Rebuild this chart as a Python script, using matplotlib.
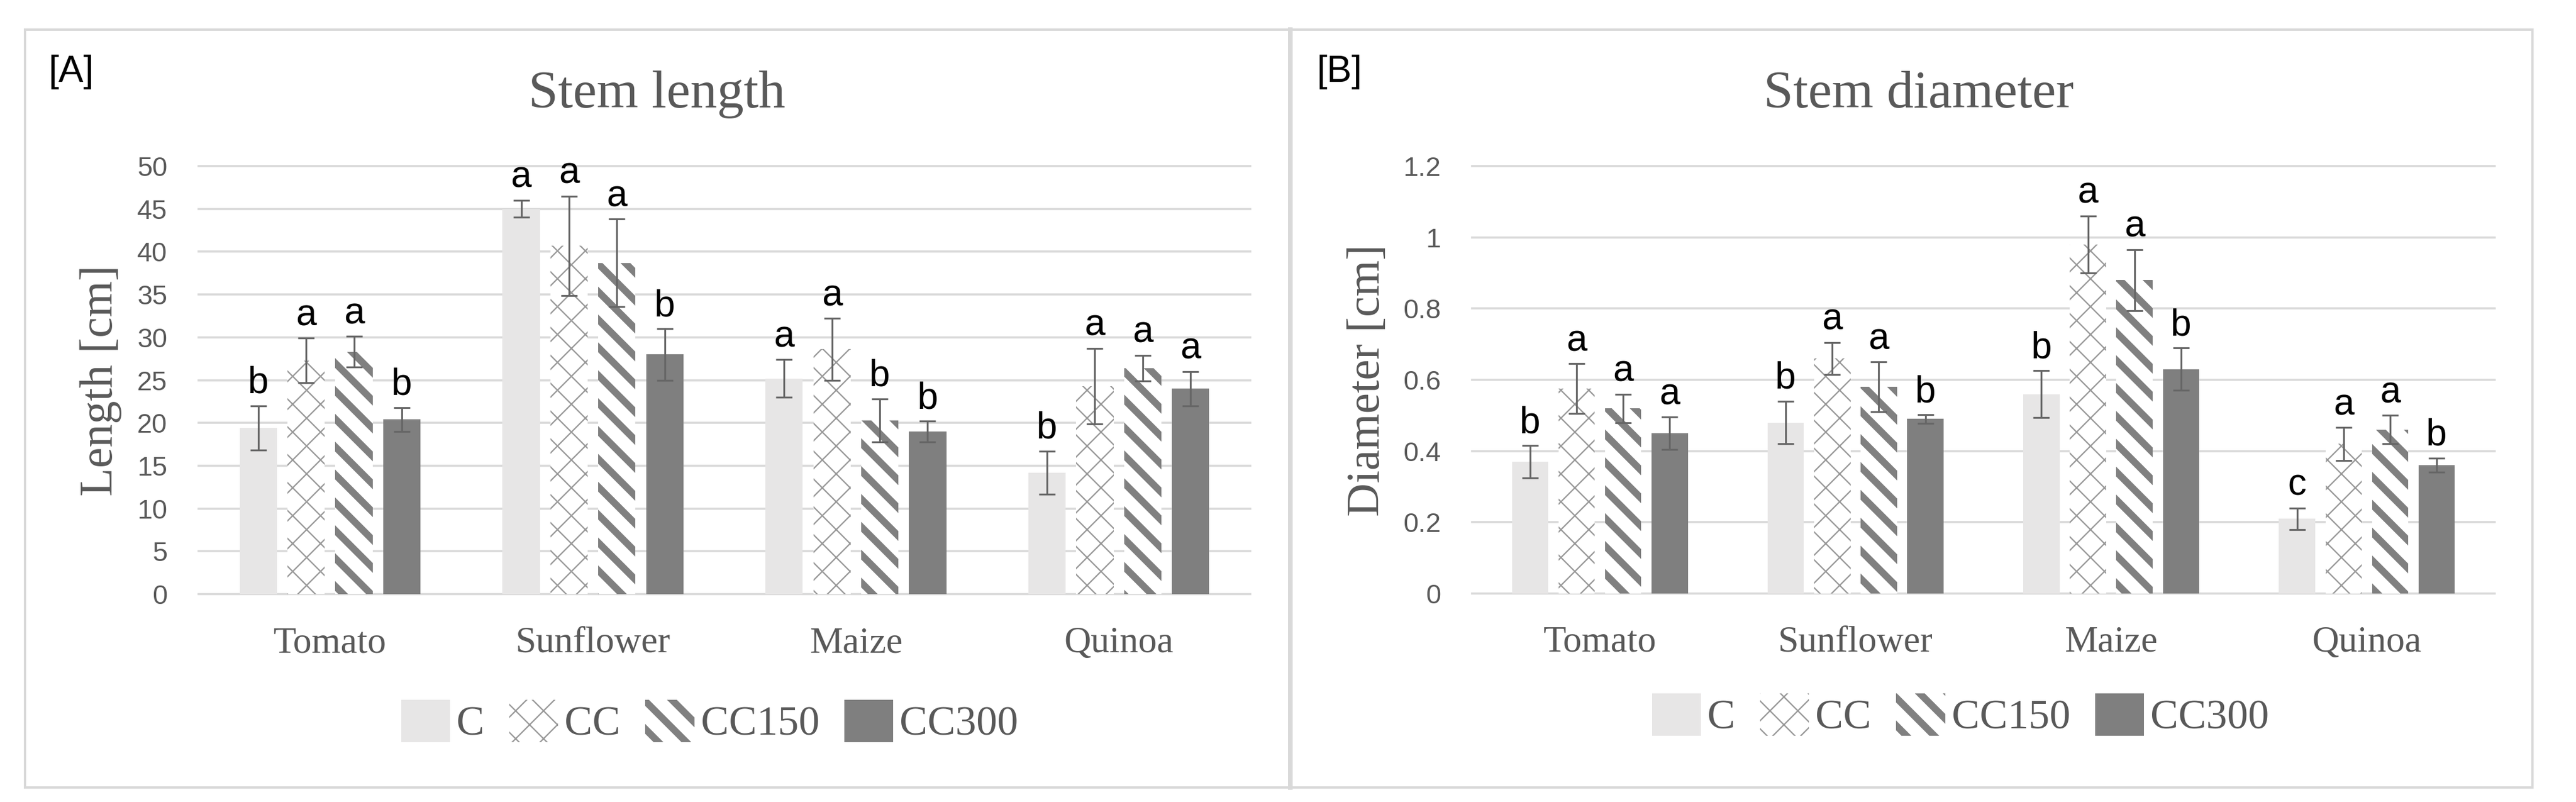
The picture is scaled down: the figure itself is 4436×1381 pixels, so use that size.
import numpy as np
import matplotlib
matplotlib.use('Agg')
import matplotlib.pyplot as plt
from matplotlib.patches import Rectangle
from matplotlib.lines import Line2D

W, H = 4436, 1381
DPI = 288          # 1 pt = 4 px

crops = ['Tomato', 'Sunflower', 'Maize', 'Quinoa']
treatments = ['C', 'CC', 'CC150', 'CC300']

# [A] stem length [cm]
length_C = [19.4, 45.0, 25.2, 14.2]
length_CC = [27.3, 40.7, 28.6, 24.3]
length_CC150 = [28.3, 38.7, 20.3, 26.4]
length_CC300 = [20.4, 28.0, 19.0, 24.0]
length_err_C = [2.6, 1.0, 2.2, 2.5]
length_err_CC = [2.6, 5.8, 3.6, 4.4]
length_err_CC150 = [1.8, 5.1, 2.5, 1.5]
length_err_CC300 = [1.4, 3.0, 1.2, 2.0]
length_let_C = ['b', 'a', 'a', 'b']
length_let_CC = ['a', 'a', 'a', 'a']
length_let_CC150 = ['a', 'a', 'b', 'a']
length_let_CC300 = ['b', 'b', 'b', 'a']
length_ticks = [0, 5, 10, 15, 20, 25, 30, 35, 40, 45, 50]

# [B] stem diameter [cm]
diam_C = [0.37, 0.48, 0.56, 0.21]
diam_CC = [0.575, 0.66, 0.98, 0.42]
diam_CC150 = [0.52, 0.58, 0.88, 0.46]
diam_CC300 = [0.45, 0.49, 0.63, 0.36]
diam_err_C = [0.045, 0.06, 0.066, 0.03]
diam_err_CC = [0.07, 0.045, 0.08, 0.046]
diam_err_CC150 = [0.04, 0.07, 0.086, 0.04]
diam_err_CC300 = [0.045, 0.012, 0.059, 0.02]
diam_let_C = ['b', 'b', 'b', 'c']
diam_let_CC = ['a', 'a', 'a', 'a']
diam_let_CC150 = ['a', 'a', 'a', 'a']
diam_let_CC300 = ['a', 'b', 'b', 'b']
diam_ticks = [0, 0.2, 0.4, 0.6, 0.8, 1, 1.2]

GREY_TXT = '#595959'
GRID = '#d9d9d9'
SERIF = 'Liberation Serif'
SANS = 'Liberation Sans'

styles = {
    'C':     dict(face='#e7e6e6', edge='#e7e6e6', hatch=None, hlw=1.0),
    'CC':    dict(face='white', edge='#9a9a9a', hatch='xx', hlw=0.6),
    'CC150': dict(face='white', edge='#808080', hatch='\\\\', hlw=3.0),
    'CC300': dict(face='#7f7f7f', edge='#7f7f7f', hatch=None, hlw=1.0),
}

WIDTH = 0.142
PITCH = 0.182


def set_hlw(patch, lw):
    if hasattr(patch, 'set_hatch_linewidth'):
        patch.set_hatch_linewidth(lw)
    else:
        patch._hatch_linewidth = lw


def draw_panel(ax, means, errs, letters, ticks):
    x = np.arange(len(crops))
    handles = []
    for i, t in enumerate(treatments):
        st = styles[t]
        xs = x + (i - 1.5) * PITCH
        with plt.rc_context({'hatch.linewidth': st['hlw']}):
            bars = ax.bar(xs, means[i], WIDTH, color=st['face'], edgecolor=st['edge'],
                          linewidth=0, hatch=st['hatch'], zorder=2, label=t)
        for b in bars:
            set_hlw(b, st['hlw'])
        handles.append(bars)
        ax.errorbar(xs, means[i], yerr=errs[i], fmt='none', ecolor='#666666',
                    elinewidth=0.8, capsize=3.6, capthick=0.8, zorder=3)
        for xx, m, e, l in zip(xs, means[i], errs[i], letters[i]):
            ax.annotate(l, (xx, m + e), xytext=(0, 5.5), textcoords='offset points',
                        ha='center', va='baseline', fontsize=16, family=SANS,
                        color='black', zorder=4)

    ax.set_xlim(-0.5, len(crops) - 0.5)
    ax.set_ylim(ticks[0], ticks[-1])
    ax.set_yticks(ticks, ['{:g}'.format(v) for v in ticks])
    ax.set_xticks(x, crops)
    for s in ax.spines.values():
        s.set_visible(False)
    ax.yaxis.grid(True, color=GRID, linewidth=0.9)
    ax.set_axisbelow(True)
    for gl in ax.get_ygridlines():
        gl.set_clip_on(False)
    ax.tick_params(axis='both', length=0)
    ax.tick_params(axis='y', pad=13.5, labelsize=11.7, labelcolor=GREY_TXT)
    ax.tick_params(axis='x', pad=14, labelsize=16, labelcolor=GREY_TXT)
    for lab in ax.get_yticklabels():
        lab.set_family(SANS)
    for lab in ax.get_xticklabels():
        lab.set_family(SERIF)
    return handles


fig = plt.figure(figsize=(W / DPI, H / DPI), dpi=DPI)
fig.patch.set_facecolor('white')

axA = fig.add_axes([342 / W, 1 - 1023 / H, (2153 - 342) / W, (1023 - 286) / H])
axB = fig.add_axes([2535 / W, 1 - 1022 / H, (4296 - 2535) / W, (1022 - 286) / H])

hA = draw_panel(axA,
                [length_C, length_CC, length_CC150, length_CC300],
                [length_err_C, length_err_CC, length_err_CC150, length_err_CC300],
                [length_let_C, length_let_CC, length_let_CC150, length_let_CC300],
                length_ticks)
hB = draw_panel(axB,
                [diam_C, diam_CC, diam_CC150, diam_CC300],
                [diam_err_C, diam_err_CC, diam_err_CC150, diam_err_CC300],
                [diam_let_C, diam_let_CC, diam_let_CC150, diam_let_CC300],
                diam_ticks)

# titles, panel tags, axis labels
fig.text(1131 / W, 1 - 185 / H, 'Stem length', ha='center', va='baseline',
         fontsize=23, family=SERIF, color=GREY_TXT)
fig.text(3304 / W, 1 - 185 / H, 'Stem diameter', ha='center', va='baseline',
         fontsize=23, family=SERIF, color=GREY_TXT)
fig.text(84 / W, 1 - 141 / H, '[A]', ha='left', va='baseline', fontsize=16, family=SANS)
fig.text(2267 / W, 1 - 141 / H, '[B]', ha='left', va='baseline', fontsize=16, family=SANS)
fig.text(173 / W, 1 - 655 / H, 'Length [cm]', rotation=90, ha='center', va='center',
         fontsize=20, family=SERIF, color=GREY_TXT)
fig.text(2356 / W, 1 - 655 / H, 'Diameter [cm]', rotation=90, ha='center', va='center',
         fontsize=20, family=SERIF, color=GREY_TXT)

# legends
for handles, cx, cy in [(hA, 1222, 1243), (hB, 3376, 1232)]:
    leg = fig.legend(handles, treatments, loc='center', bbox_to_anchor=(cx / W, 1 - cy / H),
                     ncol=4, frameon=False, handlelength=1.17, handleheight=1.18,
                     handletextpad=0.15, columnspacing=0.6,
                     prop={'family': SERIF, 'size': 18})
    for txt in leg.get_texts():
        txt.set_color(GREY_TXT)
    for p, t in zip(leg.get_patches(), treatments):
        set_hlw(p, styles[t]['hlw'])

# outer frame and divider
fig.add_artist(Rectangle((43 / W, 1 - 1356 / H), (4361 - 43) / W, (1356 - 51) / H,
                         transform=fig.transFigure, fill=False, edgecolor=GRID, linewidth=1))
fig.add_artist(Line2D([2222 / W, 2222 / W], [1 - 1356 / H, 1 - 51 / H],
                      transform=fig.transFigure, color=GRID, linewidth=2))

fig.savefig('out.png', dpi=DPI, facecolor='white')
